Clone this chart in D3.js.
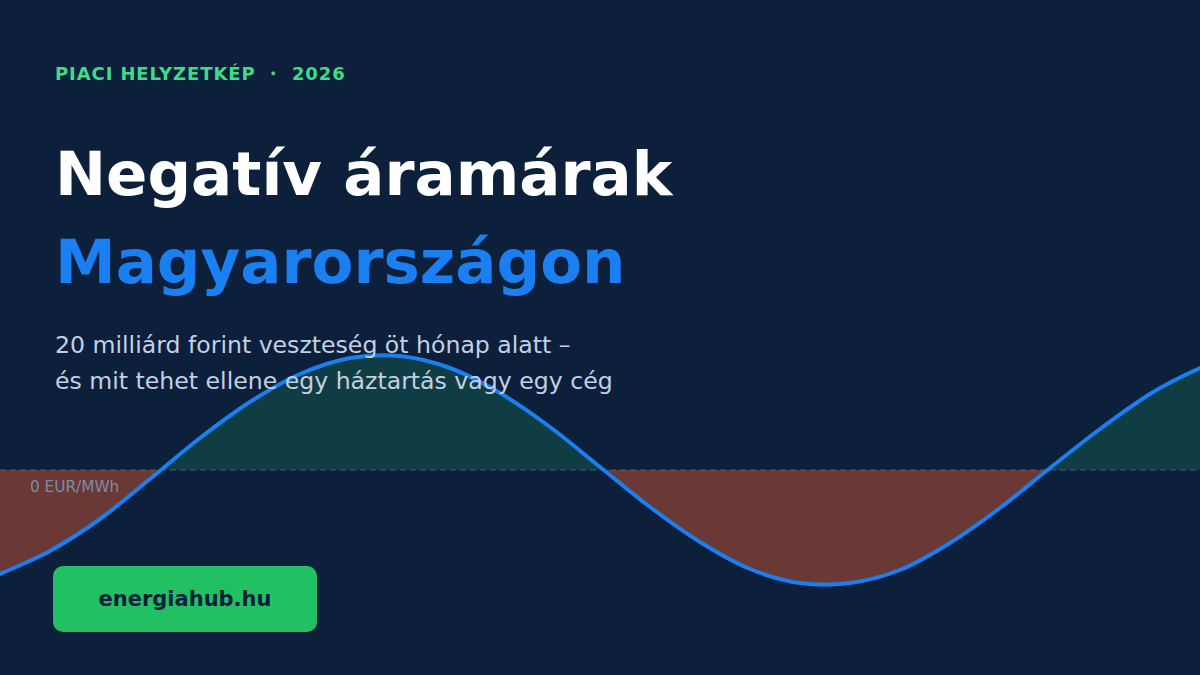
<!DOCTYPE html>
<html><head><meta charset="utf-8">
<script src="https://cdn.jsdelivr.net/npm/d3@7"></script>
<style>
html,body{margin:0;padding:0;background:#0c1f3b;}
svg{display:block;}
</style></head>
<body>
<svg id="chart" width="1200" height="675"></svg>
<script>
// Hours of a day (x positions) and price in EUR/MWh
const hours = [0,0.5,1,2,3,4,5,6,7,8,9,10,11,12,13,14,15,16,17,18,19,20,21,22,23,23.5,24];
const prices = [-104,-93,-81,-49,-9,32,68,96,112,114,102,77,43,3,-37,-72,-99,-113,-113,-100,-73,-38,2,41,76,90,102];
const kicker = "PIACI HELYZETKÉP  ·  2026";
const titleLines = ["Negatív áramárak", "Magyarországon"];
const subtitleLines = ["20 milliárd forint veszteség öt hónap alatt –", "és mit tehet ellene egy háztartás vagy egy cég"];
const zeroLabel = "0 EUR/MWh";
const badgeText = "energiahub.hu";

const W = 1200, H = 675;
const svg = d3.select("#chart");
const font = "'DejaVu Sans', sans-serif";

svg.append("rect").attr("width", W).attr("height", H).attr("fill", "#0c1f3b");

const x = d3.scaleLinear().domain([0, 24]).range([0, W]);
const y = d3.scaleLinear().domain([-200, 200]).range([670, 270]);
const data = hours.map((h, i) => ({h, v: prices[i]}));

const defs = svg.append("defs");
defs.append("clipPath").attr("id", "above").append("rect")
  .attr("x", 0).attr("y", 0).attr("width", W).attr("height", y(0));
defs.append("clipPath").attr("id", "below").append("rect")
  .attr("x", 0).attr("y", y(0)).attr("width", W).attr("height", H - y(0));

const curve = d3.curveCatmullRom.alpha(0.5);
const area = d3.area().x(d => x(d.h)).y0(y(0)).y1(d => y(d.v)).curve(curve);
const line = d3.line().x(d => x(d.h)).y(d => y(d.v)).curve(curve);

svg.append("path").datum(data).attr("d", area).attr("fill", "#0f3d43")
  .attr("clip-path", "url(#above)");
svg.append("path").datum(data).attr("d", area).attr("fill", "#6b3935")
  .attr("clip-path", "url(#below)");

svg.append("line").attr("x1", 0).attr("x2", W).attr("y1", y(0)).attr("y2", y(0))
  .attr("stroke", "#5f8f98").attr("stroke-opacity", 0.55).attr("stroke-width", 1)
  .attr("stroke-dasharray", "6,4");

svg.append("path").datum(data).attr("d", line).attr("fill", "none")
  .attr("stroke", "#1a7ff0").attr("stroke-width", 4).attr("stroke-linecap", "round");

svg.append("text").attr("x", 30).attr("y", y(0) + 22).text(zeroLabel)
  .attr("font-family", font).attr("font-size", 15.3).attr("fill", "#7d8ca3");

svg.append("text").attr("x", 55).attr("y", 80).text(kicker)
  .attr("font-family", font).attr("font-size", 18).attr("font-weight", "bold")
  .attr("fill", "#3ddc89").attr("letter-spacing", 0.9).style("white-space", "pre");

svg.append("text").attr("x", 55).attr("y", 195).text(titleLines[0])
  .attr("font-family", font).attr("font-size", 61).attr("font-weight", "bold").attr("fill", "#ffffff");
svg.append("text").attr("x", 55).attr("y", 283).text(titleLines[1])
  .attr("font-family", font).attr("font-size", 61).attr("font-weight", "bold").attr("fill", "#1a7ff0");

subtitleLines.forEach((t, i) => {
  svg.append("text").attr("x", 55).attr("y", 353 + i * 36).text(t)
    .attr("font-family", font).attr("font-size", 23.6).attr("fill", "#c3d0e3");
});

svg.append("rect").attr("x", 53).attr("y", 566).attr("width", 264).attr("height", 66)
  .attr("rx", 10).attr("fill", "#22c063");
svg.append("text").attr("x", 185).attr("y", 606).attr("text-anchor", "middle").text(badgeText)
  .attr("font-family", font).attr("font-size", 21).attr("font-weight", "bold").attr("fill", "#0c1f3b");
</script>
</body></html>
